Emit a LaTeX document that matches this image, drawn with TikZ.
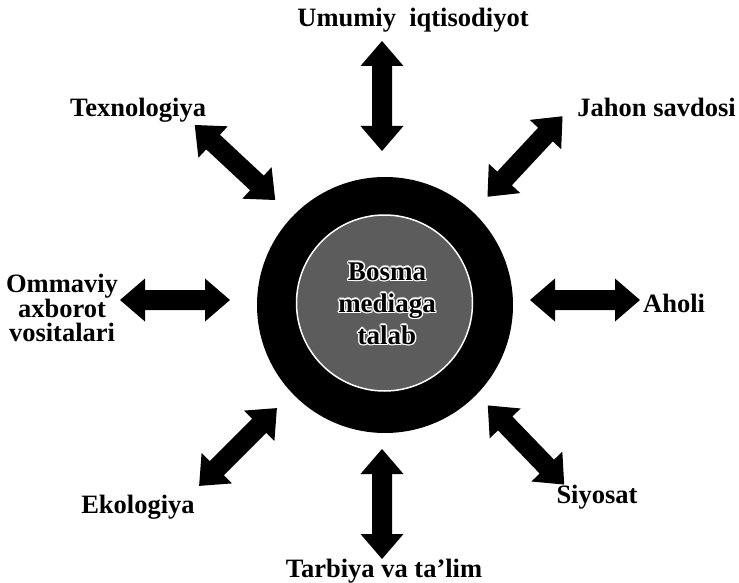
\documentclass[tikz,border=0pt]{standalone}
\usepackage{fontspec}
\setmainfont{Liberation Serif}
\definecolor{innergray}{HTML}{5C5C5C}
\begin{document}
\begin{tikzpicture}[x=1pt,y=-1pt,
  lbl/.style={font=\fontsize{26.5}{24}\selectfont\bfseries, inner sep=0pt},
  centertext/.style={font=\fontsize{27}{32}\selectfont\bfseries, inner sep=0pt, align=center},
  blockarrow/.pic={\fill[black] (-55,0) -- (-30,21.5) -- (-30,10) -- (30,10) -- (30,21.5) -- (55,0)
        -- (30,-21.5) -- (30,-10) -- (-30,-10) -- (-30,-21.5) -- cycle;}
]
\useasboundingbox (0,0) rectangle (739,583);
% central circles
\node[circle, fill=black, minimum size=256pt, inner sep=0pt] (outer) at (385,305) {};
\node[circle, fill=innergray, draw=white, line width=1.5pt, minimum size=176pt, inner sep=0pt] (inner) at (384.5,303) {};
% halo text (white copies behind the black text)
\foreach \dx/\dy in {-1.4/0, 1.4/0, 0/-1.4, 0/1.4, -1/-1, 1/1, -1/1, 1/-1}
  \node[centertext, text=white, xshift=\dx pt, yshift=\dy pt] at (387,303.5) {Bosma\\mediaga\\talab};
\node[centertext, text=black] (ctext) at (387,303.5) {Bosma\\mediaga\\talab};
% arrows
\pic[rotate=90] (aTop) at (382,96) {blockarrow};
\pic[rotate=90] (aBot) at (382,504) {blockarrow};
\pic[rotate=-43] (aTex) at (235,162.5) {blockarrow};
\pic[rotate=47] (aJah) at (525,156.5) {blockarrow};
\pic (aOmm) at (175,300) {blockarrow};
\pic (aAho) at (585,300) {blockarrow};
\pic[rotate=45] (aEko) at (238,447) {blockarrow};
\pic[rotate=-46] (aSiy) at (526,445) {blockarrow};
% labels
\node[lbl, anchor=base] (umumiy) at (413,27) {Umumiy\ \ iqtisodiyot};
\node[lbl, anchor=base] (tex) at (138,117) {Texnologiya};
\node[lbl, anchor=base east] (jahon) at (736,117) {Jahon savdosi};
\node[lbl, anchor=north, align=center] (omm) at (62,273.5) {Ommaviy\\axborot\\vositalari};
\node[lbl, anchor=base west] (aholi) at (643,312) {Aholi};
\node[lbl, anchor=base] (eko) at (138,513) {Ekologiya};
\node[lbl, anchor=base] (siy) at (597,503) {Siyosat};
\node[lbl, anchor=base] (tarb) at (384,577) {Tarbiya va ta’lim};
\end{tikzpicture}
\end{document}
